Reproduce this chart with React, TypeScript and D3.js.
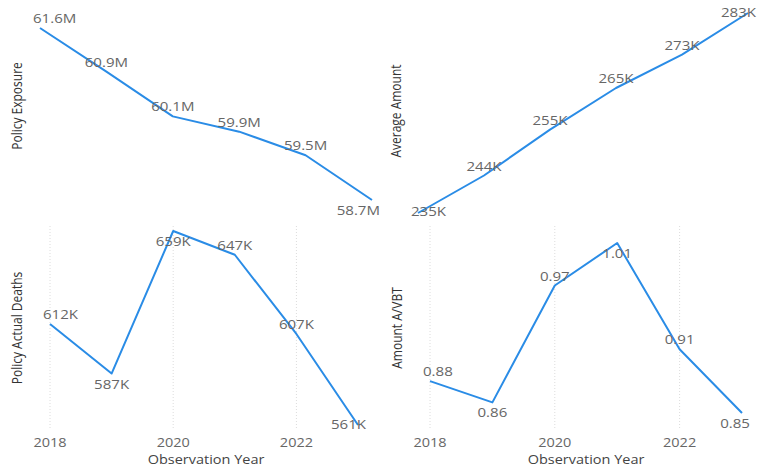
import React from "react";
import * as d3 from "d3";

// ---- Data ----
const years = [2018, 2019, 2020, 2021, 2022, 2023];
const tickYears = [2018, 2020, 2022];
const policyExposure = [61.62, 60.88, 60.12, 59.86, 59.46, 58.7]; // millions
const averageAmount = [235, 244, 255, 265, 273, 283]; // thousands
const policyActualDeaths = [612, 587, 659, 647, 607, 561]; // thousands
const amountAVBT = [0.88, 0.86, 0.97, 1.01, 0.91, 0.85];

const exposureSides = ["above", "above", "above", "above", "above", "below"];
const amountSides = ["center", "above", "above", "above", "above", "center"];
const deathsSides = ["above", "below", "below", "above", "above", "center"];
const avbtSides = ["above", "below", "above", "below", "above", "below"];

const FONT = "'Open Sans', 'Segoe UI', sans-serif";
const LINE = "#2a8ce6";
const STRETCH = 1.16;

type Panel = {
  title: string;
  values: number[];
  sides: string[];
  fmt: (v: number) => string;
  x0: number;
  x1: number;
  yTop: number;
  yBot: number;
  clipTop: number;
  clipBot: number;
  titleX: number;
  titleY: number;
  showAxis: boolean;
  axisCenter: number;
};

const panels: Panel[] = [
  {
    title: "Policy Exposure",
    values: policyExposure,
    sides: exposureSides,
    fmt: (v) => d3.format(".1f")(v) + "M",
    x0: 40, x1: 372, yTop: 28, yBot: 200, clipTop: 16, clipBot: 216,
    titleX: 22, titleY: 106, showAxis: false, axisCenter: 0,
  },
  {
    title: "Average Amount",
    values: averageAmount,
    sides: amountSides,
    fmt: (v) => d3.format(".0f")(v) + "K",
    x0: 418, x1: 748, yTop: 13, yBot: 213, clipTop: 17, clipBot: 216,
    titleX: 401, titleY: 111, showAxis: false, axisCenter: 0,
  },
  {
    title: "Policy Actual Deaths",
    values: policyActualDeaths,
    sides: deathsSides,
    fmt: (v) => d3.format(".0f")(v) + "K",
    x0: 50, x1: 358, yTop: 231, yBot: 425, clipTop: 240, clipBot: 432,
    titleX: 22, titleY: 328, showAxis: true, axisCenter: 206,
  },
  {
    title: "Amount A/VBT",
    values: amountAVBT,
    sides: avbtSides,
    fmt: (v) => d3.format(".2f")(v),
    x0: 430, x1: 742, yTop: 243, yBot: 413, clipTop: 240, clipBot: 432,
    titleX: 402, titleY: 328, showAxis: true, axisCenter: 586,
  },
];

function PanelView({ p }: { p: Panel }) {
  const x = d3.scaleLinear().domain(d3.extent(years) as [number, number]).range([p.x0, p.x1]);
  const y = d3.scaleLinear().domain(d3.extent(p.values) as [number, number]).range([p.yBot, p.yTop]);
  const line = d3
    .line<number>()
    .x((_, i) => x(years[i]))
    .y((v) => y(v));
  const n = p.values.length;
  return (
    <g>
      {p.showAxis &&
        tickYears.map((t) => (
          <line
            key={"g" + t}
            x1={x(t)}
            x2={x(t)}
            y1={226}
            y2={430}
            stroke="#dcdcdc"
            strokeWidth={1}
            strokeDasharray="1,2"
          />
        ))}
      <path d={line(p.values) || ""} fill="none" stroke={LINE} strokeWidth={2} strokeLinejoin="round" />
      {p.values.map((v, i) => {
        const px = x(years[i]);
        const py = y(v);
        const side = p.sides[i];
        let by = side === "above" ? py - 5 : side === "below" ? py + 15 : py + 4;
        by = Math.max(p.clipTop, Math.min(p.clipBot, by));
        let anchor: "start" | "middle" | "end" = "middle";
        let lx = px;
        if (i === 0) {
          anchor = "start";
          lx = px - 7;
        } else if (i === n - 1) {
          anchor = "end";
          lx = px + 8;
        }
        return (
          <text
            key={"l" + i}
            transform={`translate(${lx},${by}) scale(${STRETCH},1)`}
            textAnchor={anchor}
            fontFamily={FONT}
            fontSize={13}
            fill="#666"
          >
            {p.fmt(v)}
          </text>
        );
      })}
      <text
        transform={`translate(${p.titleX},${p.titleY}) rotate(-90) scale(1,${STRETCH})`}
        textAnchor="middle"
        fontFamily={FONT}
        fontSize={12}
        fill="#333"
      >
        {p.title}
      </text>
      {p.showAxis &&
        tickYears.map((t) => (
          <text
            key={"t" + t}
            transform={`translate(${x(t)},447) scale(${STRETCH},1)`}
            textAnchor="middle"
            fontFamily={FONT}
            fontSize={12.5}
            fill="#666"
          >
            {t}
          </text>
        ))}
      {p.showAxis && (
        <text
          transform={`translate(${p.axisCenter},464) scale(${STRETCH},1)`}
          textAnchor="middle"
          fontFamily={FONT}
          fontSize={12.5}
          fill="#444"
        >
          Observation Year
        </text>
      )}
    </g>
  );
}

export default function App() {
  return (
    <svg
      width={759}
      height={468}
      style={{ position: "absolute", left: 0, top: 0, background: "#fff" }}
    >
      <rect width={759} height={468} fill="#fff" />
      {panels.map((p) => (
        <PanelView key={p.title} p={p} />
      ))}
    </svg>
  );
}
